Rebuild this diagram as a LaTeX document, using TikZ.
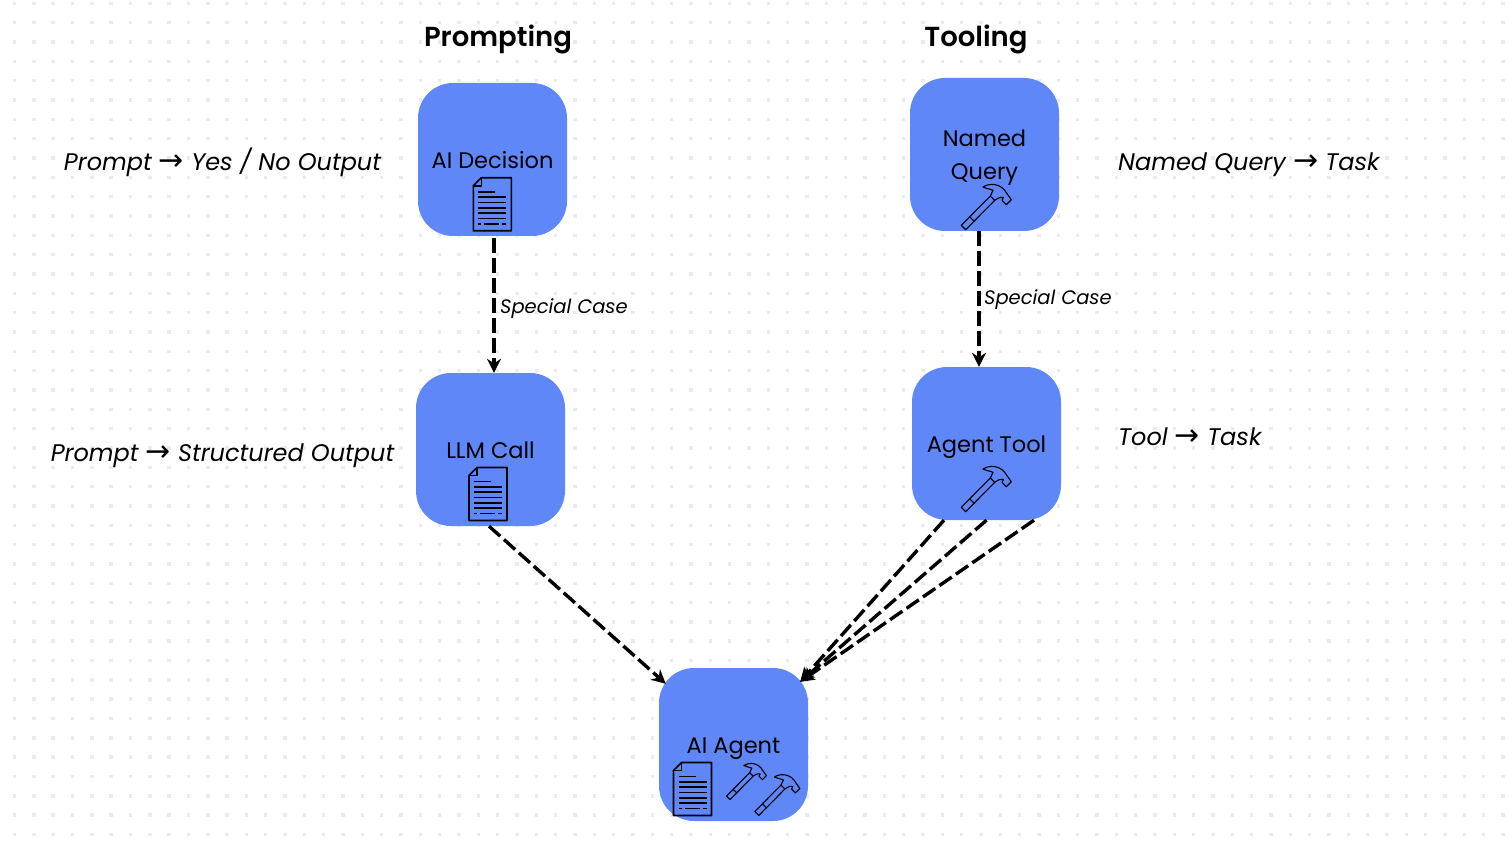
\documentclass[tikz,border=0pt]{standalone}
\usepackage{fontspec}
\setmainfont{Poppins}
\newfontfamily\arrowfont{DejaVu Sans}
\newfontfamily\titlefont{Poppins SemiBold}
\usetikzlibrary{arrows.meta, positioning}
\definecolor{colorBox}{HTML}{5F87F8}
\definecolor{colorDot}{HTML}{E9EBF0}
\newcommand{\toarrow}{{\arrowfont\upshape\fontsize{30}{30}\selectfont →}}
\tikzset{
  box/.style={draw=none, fill=colorBox, rounded corners=35, minimum width=149, minimum height=153, inner sep=0},
  boxtext/.style={font=\fontsize{22.5}{22.5}\selectfont, inner sep=0, anchor=base},
  title/.style={font=\titlefont\fontsize{27.5}{27.5}\selectfont, inner sep=0, anchor=base},
  note/.style={font=\itshape\fontsize{24}{24}\selectfont, inner sep=0, anchor=base},
  case/.style={font=\itshape\fontsize{19.5}{19.5}\selectfont, inner sep=0, anchor=base west},
  link/.style={-{Stealth[length=14, width=14]}, line width=3.4, dash pattern=on 15 off 5},
  doc/.pic={
    \draw[line width=1.6, line join=round] (-11,-26.5) -- (19,-26.5) -- (19,26.5) -- (-19,26.5) -- (-19,-18.5) -- cycle;
    \draw[line width=1.6, line join=round] (-11,-26.5) -- (-11,-18.5) -- (-19,-18.5);
    \draw[line width=1.6] (-14,-12.5) -- (3,-12.5);
    \foreach \y in {-7.2,-1.8,3.5,8.8,14.2} \draw[line width=1.6] (-14,\y) -- (14,\y);
    \draw[line width=1.6] (-14,19.5) -- (-11,19.5) (-8,19.5) -- (7,19.5) (10,19.5) -- (14,19.5);
  },
  hammer/.pic={
    \draw[line width=1.1, line join=round] (-25.7,18.3) -- (-21.3,22.7) -- (7.7,-6.7) -- (3.3,-11) -- cycle;
    \draw[line width=1.1] (-17.3,10) -- (-12.3,14.6);
    \draw[line width=1.1, line join=round] (3.3,-11) -- (6,-16.7) .. controls (3,-18) and (-1,-18.5) .. (-4,-20) .. controls (2,-24) and (14,-24.5) .. (20,-13.3) -- (24.3,-7.3) -- (19.3,-2.3) -- (15,-6.7) -- (16.5,-9.5) .. controls (14,-10.5) and (12,-9.5) .. (7.7,-6.7);
  },
}
\begin{document}
\begin{tikzpicture}[x=1pt, y=-1pt]
\useasboundingbox (0,0) rectangle (1512,850);
% background
\foreach \i in {0,...,77} \foreach \j in {0,...,43}
  \fill[colorDot] ({14.5+19.33*\i-1.7},{3.3+19.33*\j-1.7}) rectangle +(3.4,3.4);
% boxes
\node[box] (aidecision) at (492.5,159.5) {};
\node[box] (llmcall) at (490.5,449.5) {};
\node[box] (namedquery) at (984.5,154.5) {};
\node[box] (agenttool) at (986.5,443.5) {};
\node[box] (aiagent) at (733.5,744.5) {};
\node[boxtext] (taidecision) at (492.5,169) {AI Decision};
\node[boxtext] (tllmcall) at (490.5,458) {LLM Call};
\node[boxtext] (tnamedquery) at (984.5,147) {Named};
\node[boxtext] (tquery) at (984.5,180) {Query};
\node[boxtext] (tagenttool) at (986.5,452) {Agent Tool};
\node[boxtext] (taiagent) at (733.5,753) {AI Agent};
% icons
\pic at (492.3,204.3) {doc};
\pic at (488,494) {doc};
\pic at (692.5,789) {doc};
\pic at (987,207) {hammer};
\pic at (987,489) {hammer};
\pic[scale=0.8] at (747,781.5) {hammer};
\pic[scale=0.9] at (778,795) {hammer};
% titles and notes
\node[title] (prompting) at (498,47) {Prompting};
\node[title] (tooling) at (976,47) {Tooling};
\node[note] (nyesno) at (222.5,171) {Prompt \toarrow{} Yes / No Output};
\node[note] (nstruct) at (222.5,461) {Prompt \toarrow{} Structured Output};
\node[note, anchor=base west] (nquery) at (1118,171) {Named Query \toarrow{} Task};
\node[note, anchor=base west] (ntool) at (1118,445) {Tool \toarrow{} Task};
\node[case] (lspecial) at (500,313) {Special Case};
\node[case] (rspecial) at (984,305) {Special Case};
% links
\draw[link] ([shift={(1.5,2)}]aidecision.south) -- ([xshift=3.5]llmcall.north);
\draw[link] ([xshift=-5.5]namedquery.south) -- ([xshift=-7.5]agenttool.north);
\draw[link] ([xshift=-1.5]llmcall.south) -- ([shift={(7,16)}]aiagent.north west);
\draw[link] ([xshift=-42.5]agenttool.south) -- ([shift={(-8,14)}]aiagent.north east);
\draw[link] (agenttool.south) -- ([shift={(-8,14)}]aiagent.north east);
\draw[link] ([xshift=47.5]agenttool.south) -- ([shift={(-8,14)}]aiagent.north east);
\end{tikzpicture}
\end{document}
